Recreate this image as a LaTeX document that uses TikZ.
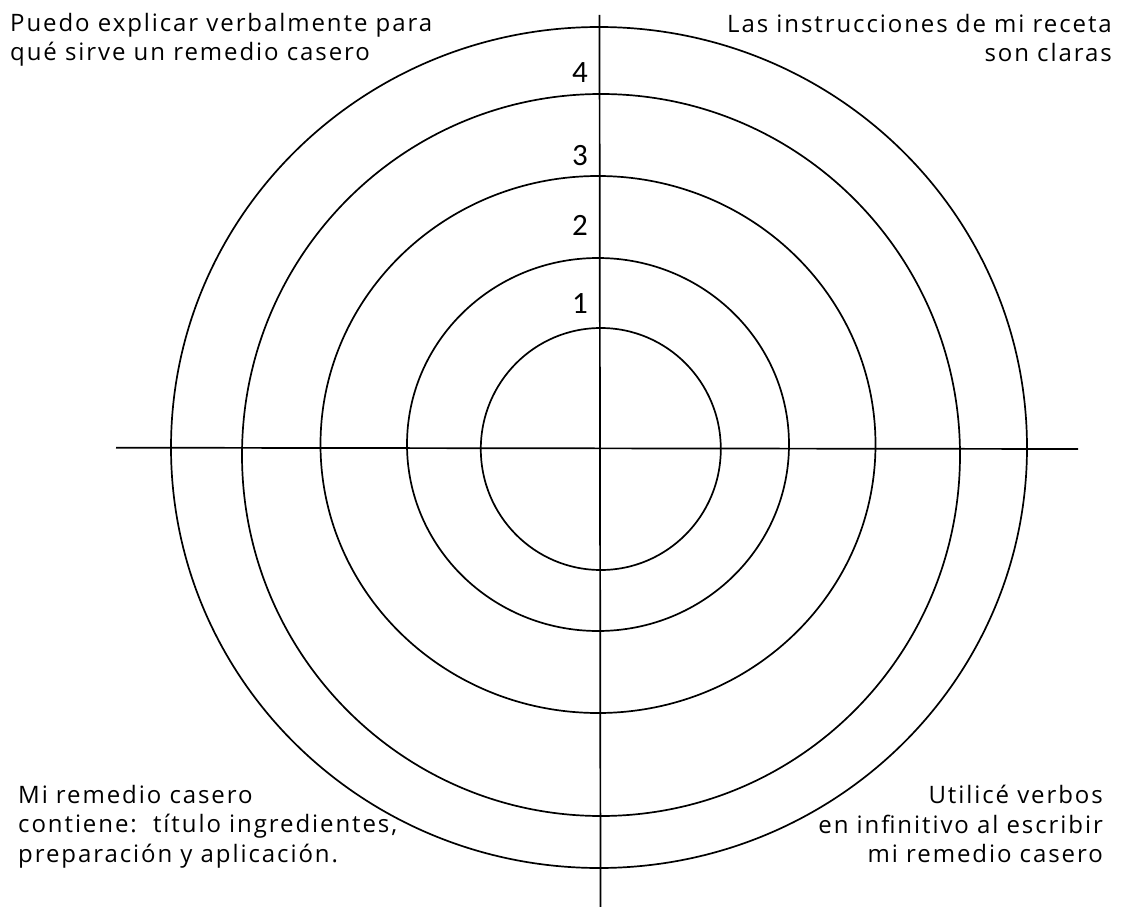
\documentclass[tikz,border=0pt]{standalone}
\usepackage{fontspec}
\setmainfont[LetterSpace=8]{Open Sans}
\newfontfamily\numfont{Carlito}
\begin{document}
\begin{tikzpicture}[x=1pt,y=-1pt,
  ring/.style={line width=1.7pt},
  axis/.style={line width=1.7pt},
  label/.style={font=\fontsize{24}{29.5}\selectfont, inner sep=0pt},
  num/.style={font=\numfont\fontsize{31}{31}\selectfont, inner sep=0pt, anchor=base east}]
\useasboundingbox (0,0) rectangle (1128,907);
% rings
\draw[ring] (600.8,449) ellipse [x radius=120pt, y radius=121pt];
\draw[ring] (598,444.5) ellipse [x radius=191pt, y radius=186.5pt];
\draw[ring] (598,444.5) ellipse [x radius=277.5pt, y radius=268.5pt];
\draw[ring] (601,455) ellipse [x radius=359pt, y radius=361pt];
\draw[ring] (599,447.5) ellipse [x radius=428pt, y radius=420.5pt];
% axes
\coordinate (vtop) at (599.5,15);
\coordinate (vbot) at (600.5,907);
\coordinate (hl) at (116,447.7);
\coordinate (hr) at (1078,449);
\draw[axis] (vtop) -- (vbot);
\draw[axis] (hl) -- (hr);
% numbers
\node[num] (n4) at (588,82) {4};
\node[num] (n3) at (588,165) {3};
\node[num] (n2) at (588,235) {2};
\node[num] (n1) at (588,313) {1};
% labels (base anchor = baseline of last line)
\node[label, anchor=base west, align=left] (tl) at (10,61) {Puedo explicar verbalmente para\\qué sirve un remedio casero};
\node[label, anchor=base east, align=right] (tr) at (1112,61.7) {Las instrucciones de mi receta\\son claras};
\node[label, anchor=base west, align=left] (bl) at (18,862) {Mi remedio casero\\contiene:\ \ título ingredientes,\\preparación y aplicación.};
\node[label, anchor=base east, align=right] (br) at (1103,862.5) {Utilicé verbos\\en infinitivo al escribir\\mi remedio casero};
\end{tikzpicture}
\end{document}
